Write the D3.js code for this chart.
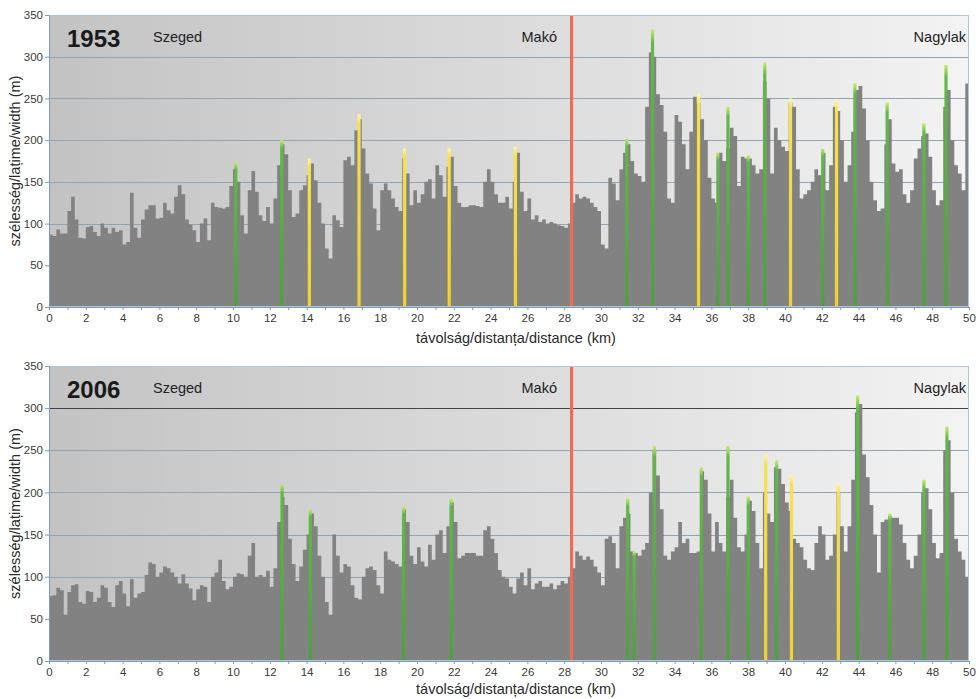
<!DOCTYPE html>
<html>
<head>
<meta charset="utf-8">
<script src="https://cdn.jsdelivr.net/npm/d3@7"></script>
<style>
  body { margin: 0; background: #fff; }
  text { font-family: Arial, "Liberation Sans", sans-serif; }
</style>
</head>
<body>
<svg id="chart" width="976" height="699"></svg>
<script>
// river width every 0.2 km
const STEP = 0.2;
const MAX_KM = 50;
const MAKO_KM = 28.4;
const yTicks = [0, 50, 100, 150, 200, 250, 300, 350];
const xTicks = d3.range(0, 51, 1);

const w1953 = [
  87,85,93,88,88,115,132,105,83,82,
  96,97,90,85,100,95,88,95,90,92,
  75,78,137,95,83,105,117,122,122,106,
  107,125,116,112,132,146,135,105,99,92,
  78,100,106,80,125,120,119,118,120,145,
  165,150,110,88,140,163,138,110,103,120,
  100,130,170,195,183,140,108,112,140,146,
  158,172,152,125,100,70,58,110,104,96,
  176,180,170,212,225,190,160,148,118,92,
  140,148,140,130,120,115,178,160,122,140,
  125,135,150,153,130,170,158,132,168,180,
  145,125,120,120,122,122,121,120,150,165,
  150,135,125,125,132,118,150,185,138,115,
  130,105,110,102,105,100,102,100,98,97,
  95,100,125,135,130,132,130,125,120,115,
  75,70,155,148,128,165,185,195,175,160,
  157,150,240,305,300,255,242,210,130,125,
  230,222,195,165,210,252,245,225,200,155,
  130,125,185,175,190,215,205,145,180,178,
  178,170,160,165,270,250,160,215,200,192,
  187,245,240,165,130,135,140,150,165,158,
  185,140,170,240,235,200,150,170,210,260,
  265,238,200,150,128,115,118,195,225,172,
  162,165,135,125,140,178,190,205,208,180,
  140,122,128,240,260,200,170,160,140,268
];

const w2006 = [
  77,78,87,84,55,82,90,91,70,68,
  83,82,70,75,90,87,70,64,90,95,
  80,65,97,75,80,82,102,117,115,100,
  105,112,110,105,100,92,103,92,86,72,
  85,90,88,70,100,105,120,95,85,88,
  100,104,103,100,125,140,100,102,100,107,
  88,110,165,195,185,145,115,95,112,132,
  150,175,160,125,100,70,55,150,125,105,
  115,112,90,75,73,100,110,112,108,90,
  80,130,120,118,115,112,180,165,125,115,
  135,118,112,138,120,150,155,128,160,188,
  165,122,125,128,128,128,125,125,155,160,
  145,128,108,100,98,88,80,98,105,90,
  110,85,92,95,88,88,92,85,90,95,
  92,100,110,130,125,120,124,120,112,105,
  90,145,148,140,110,160,170,175,130,128,
  125,132,140,200,250,220,180,125,120,130,
  135,165,140,145,128,128,130,225,215,175,
  130,165,140,130,195,215,170,135,130,150,
  190,178,140,110,200,175,165,230,228,210,
  188,178,145,140,135,120,110,108,140,160,
  150,120,125,150,200,160,130,160,215,295,
  305,245,218,185,150,105,165,168,172,170,
  170,162,140,120,110,125,150,200,205,180,
  140,122,128,250,262,200,145,130,120,100
];

// highlighted cross-sections: [km, width, g = green / y = yellow]
const sites1953 = [
  [10.15,173,'g'],[12.65,200,'g'],[14.15,178,'y'],[16.85,231,'y'],[19.33,190,'y'],
  [21.75,190,'y'],[25.35,192,'y'],[31.4,202,'g'],[32.8,333,'g'],[35.3,255,'y'],
  [36.35,185,'g'],[36.9,240,'g'],[38.0,182,'g'],[38.9,293,'g'],[40.3,250,'y'],
  [42.05,190,'g'],[42.8,248,'y'],[43.8,268,'g'],[45.55,245,'g'],[47.55,220,'g'],
  [48.75,290,'g']
];
const sites2006 = [
  [12.67,210,'g'],[14.2,180,'g'],[19.27,183,'g'],[21.85,193,'g'],[31.45,193,'g'],
  [31.8,130,'g'],[32.9,255,'g'],[35.45,230,'g'],[36.9,255,'g'],[38.0,195,'g'],
  [38.95,245,'y'],[39.55,238,'g'],[40.35,220,'y'],[42.9,210,'y'],[43.95,315,'g'],
  [45.7,175,'g'],[47.55,215,'g'],[48.8,278,'g']
];

const places = [
  { name: 'Szeged', anchor: 'start', x: 153 },
  { name: 'Makó', anchor: 'end', x: 557 },
  { name: 'Nagylak', anchor: 'end', x: 966 }
];

const svg = d3.select('#chart');
const defs = svg.append('defs');

const bg = defs.append('linearGradient').attr('id', 'bg')
  .attr('x1', 0).attr('x2', 1).attr('y1', 0).attr('y2', 0);
bg.append('stop').attr('offset', '0%').attr('stop-color', '#c3c3c3');
bg.append('stop').attr('offset', '100%').attr('stop-color', '#f3f3f3');

function lineGrad(id, tip, mid, base) {
  const g = defs.append('linearGradient').attr('id', id)
    .attr('x1', 0).attr('x2', 0).attr('y1', 0).attr('y2', 1);
  g.append('stop').attr('offset', '0%').attr('stop-color', tip);
  g.append('stop').attr('offset', '5%').attr('stop-color', mid);
  g.append('stop').attr('offset', '100%').attr('stop-color', base);
}
lineGrad('gGreen', '#c6ec6a', '#62b84a', '#4da03e');
lineGrad('gYellow', '#fff6a0', '#f7e24a', '#f0d22c');

const x = d3.scaleLinear().domain([0, MAX_KM]).range([49, 969]);

function drawPanel(year, widths, sites, top, bottom, darkLine, titleGap) {
  const y = d3.scaleLinear().domain([0, 350]).range([bottom, top]);
  const g = svg.append('g');

  // plot background
  g.append('rect')
    .attr('x', x(0)).attr('y', y(350))
    .attr('width', x(MAX_KM) - x(0)).attr('height', y(0) - y(350))
    .attr('fill', 'url(#bg)');

  // gridlines
  g.selectAll('.grid')
    .data(yTicks.filter(d => d > 0 && d < 350))
    .enter().append('line')
    .attr('x1', x(0)).attr('x2', x(MAX_KM))
    .attr('y1', d => Math.round(y(d)) + 0.5).attr('y2', d => Math.round(y(d)) + 0.5)
    .attr('stroke', d => (d === 300 && darkLine) ? '#3b4650' : '#8fa4b6')
    .attr('stroke-width', 1);

  // width profile
  const pts = widths.map((w, i) => ({ km: i * STEP, w: w }));
  pts.push({ km: MAX_KM, w: widths[widths.length - 1] });
  const area = d3.area()
    .curve(d3.curveStepAfter)
    .x(d => x(d.km))
    .y0(y(0))
    .y1(d => y(d.w));
  g.append('path').datum(pts)
    .attr('d', area)
    .attr('fill', '#828282');

  // highlighted cross-sections
  g.selectAll('.site')
    .data(sites)
    .enter().append('rect')
    .attr('x', d => x(d[0]) - 1.6)
    .attr('width', 3.2)
    .attr('y', d => y(d[1]))
    .attr('height', d => y(0) - y(d[1]))
    .attr('fill', d => d[2] === 'g' ? 'url(#gGreen)' : 'url(#gYellow)');

  // Makó
  g.append('rect')
    .attr('x', x(MAKO_KM) - 1.6).attr('width', 3.2)
    .attr('y', y(350)).attr('height', y(0) - y(350))
    .attr('fill', '#f26a55');

  // frame
  g.append('rect')
    .attr('x', x(0) + 0.5).attr('y', y(350) + 0.5)
    .attr('width', x(MAX_KM) - x(0) - 1).attr('height', y(0) - y(350) - 1)
    .attr('fill', 'none').attr('stroke', '#aec6d8');

  // axes
  const xAxis = g.append('g')
    .attr('transform', 'translate(0,' + y(0) + ')')
    .call(d3.axisBottom(x).tickValues(xTicks)
      .tickFormat(d => d % 2 === 0 ? d : '')
      .tickSize(3).tickPadding(4).tickSizeOuter(0));
  xAxis.select('.domain').attr('stroke', '#7f9bb6');
  xAxis.selectAll('.tick line').attr('stroke', '#7f9bb6');
  xAxis.selectAll('text').attr('fill', '#3a3a3a').style('font-size', '11.5px');

  const yAxis = g.append('g')
    .attr('transform', 'translate(' + x(0) + ',0)')
    .call(d3.axisLeft(y).tickValues(yTicks).tickSize(4).tickPadding(2).tickSizeOuter(0));
  yAxis.select('.domain').attr('stroke', '#7f9bb6');
  yAxis.selectAll('.tick line').attr('stroke', '#7f9bb6');
  yAxis.selectAll('text').attr('fill', '#3a3a3a').style('font-size', '11.5px');

  // titles
  g.append('text')
    .attr('x', 516).attr('y', y(0) + titleGap)
    .attr('text-anchor', 'middle')
    .style('font-size', '14.5px').attr('fill', '#2a2a2a')
    .text('távolság/distanța/distance (km)');

  g.append('text')
    .attr('transform', 'translate(20,' + (y(0) + y(350)) / 2 + ') rotate(-90)')
    .attr('text-anchor', 'middle')
    .style('font-size', '14.5px').attr('fill', '#2a2a2a')
    .text('szélesség/lațime/width (m)');

  g.append('text')
    .attr('x', 67).attr('y', y(350) + 32)
    .style('font-size', '24px').style('font-weight', 'bold').attr('fill', '#1a1a1a')
    .text(year);

  g.selectAll('.place')
    .data(places)
    .enter().append('text')
    .attr('x', d => d.x).attr('y', y(350) + 27)
    .attr('text-anchor', d => d.anchor)
    .style('font-size', '14.5px').attr('fill', '#222')
    .text(d => d.name);
}

drawPanel('1953', w1953, sites1953, 15, 307, false, 36);
drawPanel('2006', w2006, sites2006, 366, 661, true, 33);
</script>
</body>
</html>
